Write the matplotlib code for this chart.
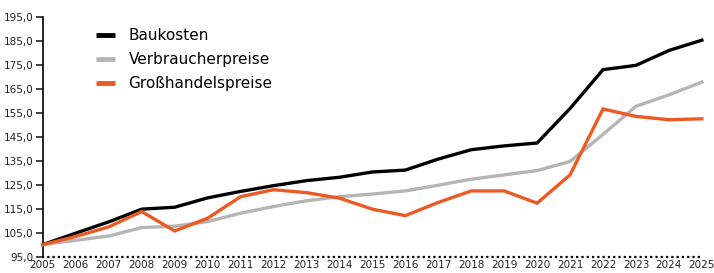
import numpy as np
import matplotlib.pyplot as plt
from matplotlib.lines import Line2D

plt.rcParams['font.family'] = ['Liberation Sans Narrow', 'DejaVu Sans']

years = list(range(2005, 2026))
baukosten = [100, 104.8, 109.5, 114.8, 115.6, 119.5, 122.2, 124.6, 126.7, 128.1, 130.3,
             131.1, 135.7, 139.6, 141.2, 142.4, 156.8, 173.0, 174.8, 181.0, 185.3]
verbraucher = [100, 101.8, 103.6, 107.1, 107.7, 109.6, 113.1, 115.9, 118.3, 120.0, 121.1,
               122.4, 124.8, 127.3, 129.1, 130.9, 134.7, 146.0, 157.7, 162.5, 167.8]
grosshandel = [100, 103.4, 107.4, 113.8, 105.7, 111.0, 120.0, 122.9, 121.7, 119.4, 114.8,
               112.1, 117.6, 122.4, 122.4, 117.3, 129.1, 156.6, 153.5, 152.1, 152.5]
labels = ['Baukosten', 'Verbraucherpreise', 'Großhandelspreise']
colors = ['#000000', '#b5b5b5', '#ec5a24']

fig = plt.figure(figsize=(7.14, 2.73), dpi=100)
ax = fig.add_axes([0.060, 0.060, 0.923, 0.878])

for vals, c in zip([baukosten, verbraucher, grosshandel], colors):
    ax.plot(years, vals, color=c, lw=2.4, solid_joinstyle='miter', clip_on=False, zorder=3)

ax.set_xlim(2005, 2025)
ax.set_ylim(95, 195)
ax.set_yticks(np.arange(95, 196, 10))
ax.set_yticklabels(['{:.1f}'.format(v).replace('.', ',') for v in np.arange(95, 196, 10)])
ax.set_xticks(years)
ax.set_xticklabels([str(y) for y in years])

for s in ['top', 'right', 'bottom']:
    ax.spines[s].set_visible(False)
ax.spines['left'].set_linewidth(1.2)

# dotted base line at 95
base = Line2D([0, 1], [0, 0], transform=ax.transAxes, color='black', lw=1.6,
              dash_capstyle='projecting', clip_on=False, zorder=4)
base.set_dashes([0.01, 2.37])
ax.add_line(base)

ax.tick_params(axis='y', length=5, width=1.2, labelsize=7.5, pad=2, colors='#222222')
ax.tick_params(axis='x', length=0, labelsize=7.5, pad=2.5, colors='#222222')

handles = [Line2D([0], [0], color=c, lw=3.5, solid_capstyle='butt') for c in colors]
ax.legend(handles, labels, loc='upper left', bbox_to_anchor=(0.080, 0.954), frameon=False,
          borderpad=0, borderaxespad=0, fontsize=11, handlelength=1.3,
          handletextpad=0.85, labelspacing=0.6)

fig.savefig('out.png', dpi=100)
